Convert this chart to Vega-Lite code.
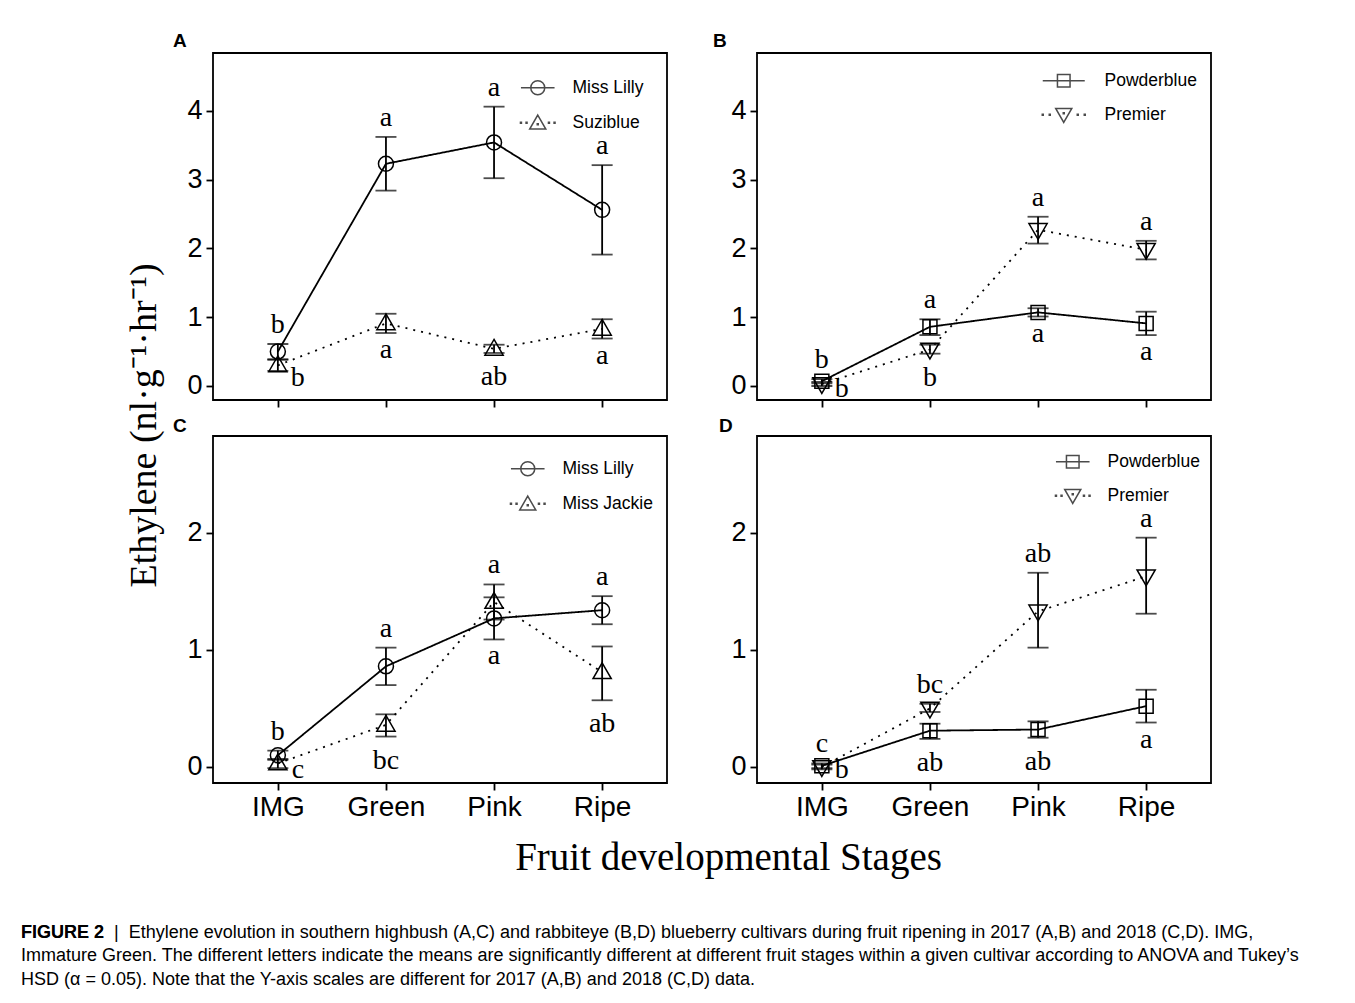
{
  "$schema": "https://vega.github.io/schema/vega-lite/v6.json",
  "autosize": {"type": "none"},
  "padding": {"left": 213, "top": 53, "right": 1142, "bottom": 950},
  "background": "white",
  "config": {
    "view": {"stroke": "black", "strokeWidth": 1.8},
    "axis": {"domain": false, "grid": false, "ticks": true, "tickColor": "black", "tickWidth": 1.8, "tickSize": 7, "labelColor": "black", "labelFont": "Liberation Sans", "labelFontSize": 27, "labelPadding": 4, "titleColor": "black", "titleFont": "Liberation Serif", "titleFontSize": 38, "titleFontWeight": "normal"},
    "axisX": {"labelFontSize": 28, "labelPadding": 3, "labelAngle": 0},
    "axisY": {"format": "d"},
    "legend": {"padding": 0, "symbolSize": 196, "symbolStrokeWidth": 1.5, "symbolStrokeColor": "black", "symbolFillColor": "transparent", "labelFont": "Liberation Sans", "labelFontSize": 17.5, "labelColor": "black", "rowPadding": 14, "symbolOffset": 0}
  },
  "title": {
    "text": "FIGURE 2",
    "subtitle": [
      "FIGURE 2\u00a0\u00a0|\u00a0\u00a0Ethylene evolution in southern highbush (A,C) and rabbiteye (B,D) blueberry cultivars during fruit ripening in 2017 (A,B) and 2018 (C,D). IMG,",
      "Immature Green. The different letters indicate the means are significantly different at different fruit stages within a given cultivar according to ANOVA and Tukey’s",
      "HSD (α = 0.05). Note that the Y-axis scales are different for 2017 (A,B) and 2018 (C,D) data."
    ],
    "orient": "bottom", "anchor": "start", "frame": "group", "dx": -192, "offset": 46, "baseline": "top",
    "font": "Liberation Sans", "fontSize": 18, "fontWeight": "bold", "color": "black",
    "subtitleFont": "Liberation Sans", "subtitleFontSize": 18, "subtitleColor": "black", "subtitleLineHeight": 23.5, "subtitlePadding": -18
  },
  "resolve": {"scale": {"strokeDash": "independent", "shape": "independent"}, "legend": {"shape": "independent", "strokeDash": "independent"}},
  "datasets": {
    "A": [
      {"stage": "IMG", "cultivar": "Miss Lilly", "mean": 0.50, "lo": 0.39, "hi": 0.61, "label": "b", "pos": "above"},
      {"stage": "Green", "cultivar": "Miss Lilly", "mean": 3.23, "lo": 2.84, "hi": 3.62, "label": "a", "pos": "above"},
      {"stage": "Pink", "cultivar": "Miss Lilly", "mean": 3.54, "lo": 3.02, "hi": 4.06, "label": "a", "pos": "above"},
      {"stage": "Ripe", "cultivar": "Miss Lilly", "mean": 2.56, "lo": 1.91, "hi": 3.21, "label": "a", "pos": "above"},
      {"stage": "IMG", "cultivar": "Suziblue", "mean": 0.30, "lo": 0.22, "hi": 0.38, "label": "b", "pos": "right"},
      {"stage": "Green", "cultivar": "Suziblue", "mean": 0.91, "lo": 0.77, "hi": 1.05, "label": "a", "pos": "below"},
      {"stage": "Pink", "cultivar": "Suziblue", "mean": 0.54, "lo": 0.48, "hi": 0.60, "label": "ab", "pos": "below"},
      {"stage": "Ripe", "cultivar": "Suziblue", "mean": 0.83, "lo": 0.69, "hi": 0.97, "label": "a", "pos": "below"}
    ],
    "B": [
      {"stage": "IMG", "cultivar": "Powderblue", "mean": 0.07, "lo": 0.04, "hi": 0.10, "label": "b", "pos": "above"},
      {"stage": "Green", "cultivar": "Powderblue", "mean": 0.86, "lo": 0.74, "hi": 0.97, "label": "a", "pos": "above"},
      {"stage": "Pink", "cultivar": "Powderblue", "mean": 1.07, "lo": 1.01, "hi": 1.13, "label": "a", "pos": "below"},
      {"stage": "Ripe", "cultivar": "Powderblue", "mean": 0.91, "lo": 0.74, "hi": 1.08, "label": "a", "pos": "below"},
      {"stage": "IMG", "cultivar": "Premier", "mean": 0.03, "lo": 0.00, "hi": 0.06, "label": "b", "pos": "right"},
      {"stage": "Green", "cultivar": "Premier", "mean": 0.53, "lo": 0.47, "hi": 0.60, "label": "b", "pos": "below"},
      {"stage": "Pink", "cultivar": "Premier", "mean": 2.27, "lo": 2.07, "hi": 2.46, "label": "a", "pos": "above"},
      {"stage": "Ripe", "cultivar": "Premier", "mean": 1.98, "lo": 1.84, "hi": 2.11, "label": "a", "pos": "above"}
    ],
    "C": [
      {"stage": "IMG", "cultivar": "Miss Lilly", "mean": 0.10, "lo": 0.06, "hi": 0.14, "label": "b", "pos": "above"},
      {"stage": "Green", "cultivar": "Miss Lilly", "mean": 0.86, "lo": 0.70, "hi": 1.02, "label": "a", "pos": "above"},
      {"stage": "Pink", "cultivar": "Miss Lilly", "mean": 1.27, "lo": 1.09, "hi": 1.45, "label": "a", "pos": "below"},
      {"stage": "Ripe", "cultivar": "Miss Lilly", "mean": 1.34, "lo": 1.22, "hi": 1.46, "label": "a", "pos": "above"},
      {"stage": "IMG", "cultivar": "Miss Jackie", "mean": 0.03, "lo": -0.01, "hi": 0.07, "label": "c", "pos": "right"},
      {"stage": "Green", "cultivar": "Miss Jackie", "mean": 0.36, "lo": 0.26, "hi": 0.45, "label": "bc", "pos": "below"},
      {"stage": "Pink", "cultivar": "Miss Jackie", "mean": 1.41, "lo": 1.26, "hi": 1.56, "label": "a", "pos": "above"},
      {"stage": "Ripe", "cultivar": "Miss Jackie", "mean": 0.81, "lo": 0.57, "hi": 1.03, "label": "ab", "pos": "below"}
    ],
    "D": [
      {"stage": "IMG", "cultivar": "Powderblue", "mean": 0.01, "lo": -0.01, "hi": 0.03, "label": "c", "pos": "above"},
      {"stage": "Green", "cultivar": "Powderblue", "mean": 0.31, "lo": 0.24, "hi": 0.37, "label": "ab", "pos": "below"},
      {"stage": "Pink", "cultivar": "Powderblue", "mean": 0.32, "lo": 0.25, "hi": 0.39, "label": "ab", "pos": "below"},
      {"stage": "Ripe", "cultivar": "Powderblue", "mean": 0.52, "lo": 0.38, "hi": 0.66, "label": "a", "pos": "below"},
      {"stage": "IMG", "cultivar": "Premier", "mean": 0.00, "lo": -0.02, "hi": 0.02, "label": "b", "pos": "right"},
      {"stage": "Green", "cultivar": "Premier", "mean": 0.50, "lo": 0.47, "hi": 0.54, "label": "bc", "pos": "above"},
      {"stage": "Pink", "cultivar": "Premier", "mean": 1.33, "lo": 1.02, "hi": 1.66, "label": "ab", "pos": "above"},
      {"stage": "Ripe", "cultivar": "Premier", "mean": 1.63, "lo": 1.31, "hi": 1.96, "label": "a", "pos": "above"}
    ]
  },
  "columns": 2,
  "bounds": "flush",
  "spacing": {"column": 90, "row": 36},
  "concat": [
    {
      "width": 454, "height": 347,
      "title": {"text": "A", "anchor": "start", "frame": "group", "dx": -40, "dy": 19, "offset": 6, "baseline": "alphabetic", "font": "Liberation Sans", "fontSize": 19, "fontWeight": "bold", "color": "black"},
      "data": {"name": "A"},
      "encoding": {"x": {"field": "stage", "type": "ordinal", "sort": ["IMG", "Green", "Pink", "Ripe"], "scale": {"type": "point", "padding": 0.6}, "axis": {"title": null, "labels": false}}},
      "resolve": {"scale": {"shape": "independent"}},
      "layer": [
        {"mark": {"type": "line", "color": "black", "strokeWidth": 1.8},
         "encoding": {
           "y": {"field": "mean", "type": "quantitative", "title": "Ethylene (nl·g⁻¹·hr⁻¹)", "scale": {"domain": [-0.2036, 4.84], "nice": false, "zero": false}, "axis": {"values": [0, 1, 2, 3, 4], "titleX": -58, "titleY": 372, "titleAngle": -90, "titleAlign": "center", "titleBaseline": "alphabetic"}},
           "strokeDash": {"field": "cultivar", "type": "nominal", "scale": {"domain": ["Miss Lilly", "Suziblue"], "range": [[1, 0], [2, 6]]}, "legend": null}}},
        {"mark": {"type": "errorbar", "color": "black", "rule": {"strokeWidth": 1.8}, "ticks": {"size": 21, "thickness": 1.8}},
         "encoding": {"y": {"field": "lo", "type": "quantitative", "title": "Ethylene (nl·g⁻¹·hr⁻¹)"}, "y2": {"field": "hi"}}},
        {"mark": {"type": "point", "filled": false, "color": "black", "strokeWidth": 1.5, "size": 196, "opacity": 1},
         "encoding": {"y": {"field": "mean", "type": "quantitative", "title": "Ethylene (nl·g⁻¹·hr⁻¹)"}, "shape": {"field": "cultivar", "type": "nominal", "scale": {"domain": ["Miss Lilly", "Suziblue"], "range": ["M1.07,0A1.07,1.07,0,1,1,-1.07,0A1.07,1.07,0,1,1,1.07,0Z", "M0,-1.35L1.3,0.9H-1.3Z"]}, "legend": null}}},
        {"transform": [{"filter": "false"}],
         "mark": {"type": "point", "filled": false, "color": "black", "strokeWidth": 1.5},
         "encoding": {"shape": {"field": "cultivar", "type": "nominal", "scale": {"domain": ["Miss Lilly", "Suziblue"], "range": ["M-2.4,0H2.4M1,0A1,1,0,1,1,-1,0A1,1,0,1,1,1,0Z", "M-2.47,-0.07h0.14v0.14h-0.14zM-1.67,-0.07h0.14v0.14h-0.14zM-0.07,0.13h0.14v0.14h-0.14zM1.53,-0.07h0.14v0.14h-0.14zM2.33,-0.07h0.14v0.14h-0.14zM0,-1.1L1.15,0.9H-1.15Z"]}, "legend": {"title": null, "orient": "none", "legendX": 316, "legendY": 26, "labelOffset": 26}}}},
        {"transform": [{"filter": "datum.pos == 'above'"}],
         "mark": {"type": "text", "font": "Liberation Serif", "fontSize": 28, "color": "black", "baseline": "alphabetic", "dy": -11},
         "encoding": {"y": {"field": "hi", "type": "quantitative", "title": "Ethylene (nl·g⁻¹·hr⁻¹)"}, "text": {"field": "label"}}},
        {"transform": [{"filter": "datum.pos == 'below' && !test(/b/, datum.label)"}],
         "mark": {"type": "text", "font": "Liberation Serif", "fontSize": 28, "color": "black", "baseline": "alphabetic", "dy": 25},
         "encoding": {"y": {"field": "lo", "type": "quantitative", "title": "Ethylene (nl·g⁻¹·hr⁻¹)"}, "text": {"field": "label"}}},
        {"transform": [{"filter": "datum.pos == 'below' && test(/b/, datum.label)"}],
         "mark": {"type": "text", "font": "Liberation Serif", "fontSize": 28, "color": "black", "baseline": "alphabetic", "dy": 32},
         "encoding": {"y": {"field": "lo", "type": "quantitative", "title": "Ethylene (nl·g⁻¹·hr⁻¹)"}, "text": {"field": "label"}}},
        {"transform": [{"filter": "datum.pos == 'right'"}],
         "mark": {"type": "text", "font": "Liberation Serif", "fontSize": 28, "color": "black", "baseline": "alphabetic", "dx": 20, "dy": 15},
         "encoding": {"y": {"field": "lo", "type": "quantitative", "title": "Ethylene (nl·g⁻¹·hr⁻¹)"}, "text": {"field": "label"}}}
      ]
    },
    {
      "width": 454, "height": 347,
      "title": {"text": "B", "anchor": "start", "frame": "group", "dx": -44, "dy": 19, "offset": 6, "baseline": "alphabetic", "font": "Liberation Sans", "fontSize": 19, "fontWeight": "bold", "color": "black"},
      "data": {"name": "B"},
      "encoding": {"x": {"field": "stage", "type": "ordinal", "sort": ["IMG", "Green", "Pink", "Ripe"], "scale": {"type": "point", "padding": 0.6}, "axis": {"title": null, "labels": false}}},
      "resolve": {"scale": {"shape": "independent"}},
      "layer": [
        {"mark": {"type": "line", "color": "black", "strokeWidth": 1.8},
         "encoding": {
           "y": {"field": "mean", "type": "quantitative", "scale": {"domain": [-0.2036, 4.84], "nice": false, "zero": false}, "axis": {"values": [0, 1, 2, 3, 4], "title": null}},
           "strokeDash": {"field": "cultivar", "type": "nominal", "scale": {"domain": ["Powderblue", "Premier"], "range": [[1, 0], [2, 6]]}, "legend": null}}},
        {"mark": {"type": "errorbar", "color": "black", "rule": {"strokeWidth": 1.8}, "ticks": {"size": 21, "thickness": 1.8}},
         "encoding": {"y": {"field": "lo", "type": "quantitative"}, "y2": {"field": "hi"}}},
        {"mark": {"type": "point", "filled": false, "color": "black", "strokeWidth": 1.5, "size": 196, "opacity": 1},
         "encoding": {"y": {"field": "mean", "type": "quantitative"}, "shape": {"field": "cultivar", "type": "nominal", "scale": {"domain": ["Powderblue", "Premier"], "range": ["M-1,-1H1V1H-1Z", "M0,1.35L1.3,-0.9H-1.3Z"]}, "legend": null}}},
        {"transform": [{"filter": "false"}],
         "mark": {"type": "point", "filled": false, "color": "black", "strokeWidth": 1.5},
         "encoding": {"shape": {"field": "cultivar", "type": "nominal", "scale": {"domain": ["Powderblue", "Premier"], "range": ["M-3,0H3M-0.9,-0.9H0.9V0.9H-0.9Z", "M-3.07,-0.07h0.14v0.14h-0.14zM-2.07,-0.07h0.14v0.14h-0.14zM-0.07,-0.27h0.14v0.14h-0.14zM1.93,-0.07h0.14v0.14h-0.14zM2.93,-0.07h0.14v0.14h-0.14zM0,1.1L1.15,-0.9H-1.15Z"]}, "legend": {"title": null, "orient": "none", "legendX": 298, "legendY": 19, "labelOffset": 32}}}},
        {"transform": [{"filter": "datum.pos == 'above'"}],
         "mark": {"type": "text", "font": "Liberation Serif", "fontSize": 28, "color": "black", "baseline": "alphabetic", "dy": -11},
         "encoding": {"y": {"field": "hi", "type": "quantitative"}, "text": {"field": "label"}}},
        {"transform": [{"filter": "datum.pos == 'below' && !test(/b/, datum.label)"}],
         "mark": {"type": "text", "font": "Liberation Serif", "fontSize": 28, "color": "black", "baseline": "alphabetic", "dy": 25},
         "encoding": {"y": {"field": "lo", "type": "quantitative"}, "text": {"field": "label"}}},
        {"transform": [{"filter": "datum.pos == 'below' && test(/b/, datum.label)"}],
         "mark": {"type": "text", "font": "Liberation Serif", "fontSize": 28, "color": "black", "baseline": "alphabetic", "dy": 32},
         "encoding": {"y": {"field": "lo", "type": "quantitative"}, "text": {"field": "label"}}},
        {"transform": [{"filter": "datum.pos == 'right'"}],
         "mark": {"type": "text", "font": "Liberation Serif", "fontSize": 28, "color": "black", "baseline": "alphabetic", "dx": 20, "dy": 11},
         "encoding": {"y": {"field": "lo", "type": "quantitative"}, "text": {"field": "label"}}}
      ]
    },
    {
      "width": 454, "height": 347,
      "title": {"text": "C", "anchor": "start", "frame": "group", "dx": -40, "dy": 20, "offset": 5, "baseline": "alphabetic", "font": "Liberation Sans", "fontSize": 19, "fontWeight": "bold", "color": "black"},
      "data": {"name": "C"},
      "encoding": {"x": {"field": "stage", "type": "ordinal", "sort": ["IMG", "Green", "Pink", "Ripe"], "scale": {"type": "point", "padding": 0.6}, "axis": {"title": "Fruit developmental Stages", "titleX": 515, "titleY": 86, "titleAlign": "center", "titleBaseline": "alphabetic", "titleFontSize": 39}}},
      "resolve": {"scale": {"shape": "independent"}},
      "layer": [
        {"mark": {"type": "line", "color": "black", "strokeWidth": 1.8},
         "encoding": {
           "y": {"field": "mean", "type": "quantitative", "scale": {"domain": [-0.137, 2.829], "nice": false, "zero": false}, "axis": {"values": [0, 1, 2], "title": null}},
           "strokeDash": {"field": "cultivar", "type": "nominal", "scale": {"domain": ["Miss Lilly", "Miss Jackie"], "range": [[1, 0], [2, 6]]}, "legend": null}}},
        {"mark": {"type": "errorbar", "color": "black", "rule": {"strokeWidth": 1.8}, "ticks": {"size": 21, "thickness": 1.8}},
         "encoding": {"y": {"field": "lo", "type": "quantitative"}, "y2": {"field": "hi"}}},
        {"mark": {"type": "point", "filled": false, "color": "black", "strokeWidth": 1.5, "size": 196, "opacity": 1},
         "encoding": {"y": {"field": "mean", "type": "quantitative"}, "shape": {"field": "cultivar", "type": "nominal", "scale": {"domain": ["Miss Lilly", "Miss Jackie"], "range": ["M1.07,0A1.07,1.07,0,1,1,-1.07,0A1.07,1.07,0,1,1,1.07,0Z", "M0,-1.35L1.3,0.9H-1.3Z"]}, "legend": null}}},
        {"transform": [{"filter": "false"}],
         "mark": {"type": "point", "filled": false, "color": "black", "strokeWidth": 1.5},
         "encoding": {"shape": {"field": "cultivar", "type": "nominal", "scale": {"domain": ["Miss Lilly", "Miss Jackie"], "range": ["M-2.4,0H2.4M1,0A1,1,0,1,1,-1,0A1,1,0,1,1,1,0Z", "M-2.47,-0.07h0.14v0.14h-0.14zM-1.67,-0.07h0.14v0.14h-0.14zM-0.07,0.13h0.14v0.14h-0.14zM1.53,-0.07h0.14v0.14h-0.14zM2.33,-0.07h0.14v0.14h-0.14zM0,-1.1L1.15,0.9H-1.15Z"]}, "legend": {"title": null, "orient": "none", "legendX": 306, "legendY": 24, "labelOffset": 26}}}},
        {"transform": [{"filter": "datum.pos == 'above'"}],
         "mark": {"type": "text", "font": "Liberation Serif", "fontSize": 28, "color": "black", "baseline": "alphabetic", "dy": -11},
         "encoding": {"y": {"field": "hi", "type": "quantitative"}, "text": {"field": "label"}}},
        {"transform": [{"filter": "datum.pos == 'below' && !test(/b/, datum.label)"}],
         "mark": {"type": "text", "font": "Liberation Serif", "fontSize": 28, "color": "black", "baseline": "alphabetic", "dy": 25},
         "encoding": {"y": {"field": "lo", "type": "quantitative"}, "text": {"field": "label"}}},
        {"transform": [{"filter": "datum.pos == 'below' && test(/b/, datum.label)"}],
         "mark": {"type": "text", "font": "Liberation Serif", "fontSize": 28, "color": "black", "baseline": "alphabetic", "dy": 32},
         "encoding": {"y": {"field": "lo", "type": "quantitative"}, "text": {"field": "label"}}},
        {"transform": [{"filter": "datum.pos == 'right'"}],
         "mark": {"type": "text", "font": "Liberation Serif", "fontSize": 28, "color": "black", "baseline": "alphabetic", "dx": 20, "dy": 10},
         "encoding": {"y": {"field": "lo", "type": "quantitative"}, "text": {"field": "label"}}}
      ]
    },
    {
      "width": 454, "height": 347,
      "title": {"text": "D", "anchor": "start", "frame": "group", "dx": -38, "dy": 20, "offset": 5, "baseline": "alphabetic", "font": "Liberation Sans", "fontSize": 19, "fontWeight": "bold", "color": "black"},
      "data": {"name": "D"},
      "encoding": {"x": {"field": "stage", "type": "ordinal", "sort": ["IMG", "Green", "Pink", "Ripe"], "scale": {"type": "point", "padding": 0.6}, "axis": {"title": null}}},
      "resolve": {"scale": {"shape": "independent"}},
      "layer": [
        {"mark": {"type": "line", "color": "black", "strokeWidth": 1.8},
         "encoding": {
           "y": {"field": "mean", "type": "quantitative", "scale": {"domain": [-0.137, 2.829], "nice": false, "zero": false}, "axis": {"values": [0, 1, 2], "title": null}},
           "strokeDash": {"field": "cultivar", "type": "nominal", "scale": {"domain": ["Powderblue", "Premier"], "range": [[1, 0], [2, 6]]}, "legend": null}}},
        {"mark": {"type": "errorbar", "color": "black", "rule": {"strokeWidth": 1.8}, "ticks": {"size": 21, "thickness": 1.8}},
         "encoding": {"y": {"field": "lo", "type": "quantitative"}, "y2": {"field": "hi"}}},
        {"mark": {"type": "point", "filled": false, "color": "black", "strokeWidth": 1.5, "size": 196, "opacity": 1},
         "encoding": {"y": {"field": "mean", "type": "quantitative"}, "shape": {"field": "cultivar", "type": "nominal", "scale": {"domain": ["Powderblue", "Premier"], "range": ["M-1,-1H1V1H-1Z", "M0,1.35L1.3,-0.9H-1.3Z"]}, "legend": null}}},
        {"transform": [{"filter": "false"}],
         "mark": {"type": "point", "filled": false, "color": "black", "strokeWidth": 1.5},
         "encoding": {"shape": {"field": "cultivar", "type": "nominal", "scale": {"domain": ["Powderblue", "Premier"], "range": ["M-2.4,0H2.4M-0.9,-0.9H0.9V0.9H-0.9Z", "M-2.47,-0.07h0.14v0.14h-0.14zM-1.67,-0.07h0.14v0.14h-0.14zM-0.07,-0.27h0.14v0.14h-0.14zM1.53,-0.07h0.14v0.14h-0.14zM2.33,-0.07h0.14v0.14h-0.14zM0,1.1L1.15,-0.9H-1.15Z"]}, "legend": {"title": null, "orient": "none", "legendX": 307, "legendY": 17, "labelOffset": 26}}}},
        {"transform": [{"filter": "datum.pos == 'above'"}],
         "mark": {"type": "text", "font": "Liberation Serif", "fontSize": 28, "color": "black", "baseline": "alphabetic", "dy": -11},
         "encoding": {"y": {"field": "hi", "type": "quantitative"}, "text": {"field": "label"}}},
        {"transform": [{"filter": "datum.pos == 'below' && !test(/b/, datum.label)"}],
         "mark": {"type": "text", "font": "Liberation Serif", "fontSize": 28, "color": "black", "baseline": "alphabetic", "dy": 25},
         "encoding": {"y": {"field": "lo", "type": "quantitative"}, "text": {"field": "label"}}},
        {"transform": [{"filter": "datum.pos == 'below' && test(/b/, datum.label)"}],
         "mark": {"type": "text", "font": "Liberation Serif", "fontSize": 28, "color": "black", "baseline": "alphabetic", "dy": 32},
         "encoding": {"y": {"field": "lo", "type": "quantitative"}, "text": {"field": "label"}}},
        {"transform": [{"filter": "datum.pos == 'right'"}],
         "mark": {"type": "text", "font": "Liberation Serif", "fontSize": 28, "color": "black", "baseline": "alphabetic", "dx": 20, "dy": 9},
         "encoding": {"y": {"field": "lo", "type": "quantitative"}, "text": {"field": "label"}}}
      ]
    }
  ]
}
